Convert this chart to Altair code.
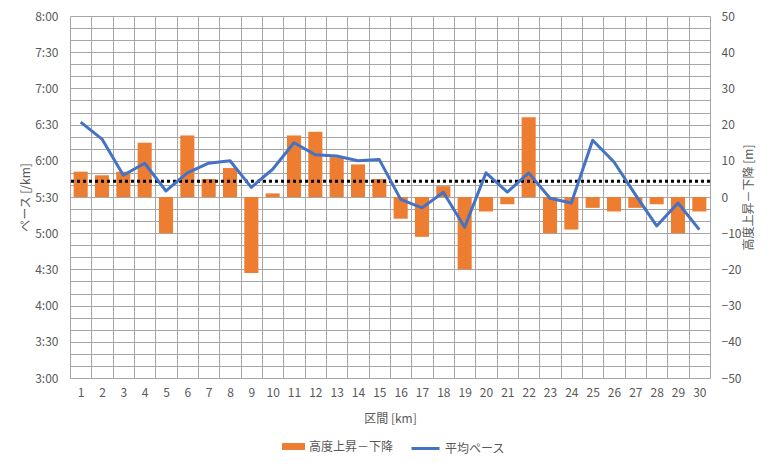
import altair as alt
import pandas as pd

KM = list(range(1, 31))
ELEVATION = [7, 6, 7, 15, -10, 17, 5, 8, -21, 1, 17, 18, 11, 9, 5,
             -6, -11, 3, -20, -4, -2, 22, -10, -9, -3, -4, -3, -2, -10, -4]
PACE = ["6:32", "6:18", "5:48", "5:58", "5:35", "5:50", "5:58", "6:00", "5:38", "5:53",
        "6:15", "6:05", "6:04", "6:00", "6:01", "5:28", "5:21", "5:34", "5:05", "5:50",
        "5:34", "5:50", "5:29", "5:25", "6:17", "5:59", "5:32", "5:06", "5:25", "5:03"]
AVG_PACE = "5:43"

BAR_NAME = "高度上昇－下降"
LINE_NAME = "平均ペース"
TEXT = "#595959"
GRID = "#a6a6a6"


def to_minutes(text: str) -> float:
    m, s = text.split(":")
    return int(m) + int(s) / 60


frame = pd.DataFrame({"km": KM, "elev": ELEVATION, "pace": [to_minutes(p) for p in PACE]})
avg = pd.DataFrame({"pace": [to_minutes(AVG_PACE)]})

x_enc = alt.X(
    "km:O",
    title="区間 [km]",
    scale=alt.Scale(paddingInner=0, paddingOuter=0),
    axis=alt.Axis(
        labelAngle=0, tickBand="extent", grid=True, gridColor=GRID, domain=False,
        ticks=False, labelPadding=9, titleY=35, labelColor=TEXT, titleColor=TEXT,
        titleFontWeight="normal",
    ),
)

label_expr = (
    "round(datum.value*6) % 3 == 0 ? floor(datum.value + 0.001) + ':' + "
    "(round(datum.value*60) % 60 < 10 ? '0' : '') + (round(datum.value*60) % 60) : ''"
)


def pace_y() -> alt.Y:
    return alt.Y(
        "pace:Q",
        title="ペース [/km]",
        scale=alt.Scale(domain=[3, 8], nice=False, zero=False),
        axis=alt.Axis(
            orient="left", values=[3 + i / 6 for i in range(31)], labelExpr=label_expr,
            grid=True, gridColor=GRID, domain=False, ticks=False, labelPadding=12,
            titleAngle=270, titleX=-45, titleY=181, titleAlign="center",
            titleBaseline="middle", labelColor=TEXT, titleColor=TEXT,
            titleFontWeight="normal",
        ),
    )


bars = (
    alt.Chart(frame)
    .mark_bar(width=alt.RelativeBandSize(0.66))
    .encode(
        x=x_enc,
        y=alt.Y(
            "elev:Q",
            title="高度上昇－下降 [m]",
            scale=alt.Scale(domain=[-50, 50], nice=False),
            axis=alt.Axis(
                orient="right", values=list(range(-50, 51, 10)), grid=False,
                domain=False, ticks=False, labelPadding=11, titleAngle=270,
                titleX=38, titleY=181, titleAlign="center", titleBaseline="middle",
                labelColor=TEXT, titleColor=TEXT, titleFontWeight="normal",
            ),
        ),
        fill=alt.Fill(
            "name:N",
            scale=alt.Scale(domain=[BAR_NAME], range=["#ED7D31"]),
            legend=alt.Legend(
                title=None, orient="none", legendX=212, legendY=419,
                symbolType="M-1,-0.3H1V0.3H-1Z", symbolSize=529, symbolOpacity=1,
                symbolStrokeWidth=0, padding=0, labelColor=TEXT, labelFontSize=12,
            ),
        ),
    )
    .transform_calculate(name=f"'{BAR_NAME}'")
)

rule = (
    alt.Chart(avg)
    .mark_rule(color="black", strokeWidth=3, strokeDash=[3, 3])
    .encode(y=pace_y())
)

line = (
    alt.Chart(frame)
    .mark_line(strokeWidth=3, strokeJoin="round")
    .encode(
        x=x_enc,
        y=pace_y(),
        stroke=alt.Stroke(
            "name:N",
            scale=alt.Scale(domain=[LINE_NAME], range=["#4472C4"]),
            legend=alt.Legend(
                title=None, orient="none", legendX=340, legendY=417,
                symbolType="stroke", symbolSize=784, symbolStrokeWidth=3,
                padding=0, labelColor=TEXT, labelFontSize=12,
            ),
        ),
    )
    .transform_calculate(name=f"'{LINE_NAME}'")
)

chart = (
    alt.layer(bars, alt.layer(rule, line))
    .resolve_scale(y="independent", fill="independent", stroke="independent")
    .properties(
        width=640,
        height=362,
        autosize=alt.AutoSizeParams(type="none"),
        padding={"left": 62, "top": 8, "right": 55, "bottom": 78},
    )
    .configure(font="Noto Sans CJK JP")
    .configure_view(stroke=None)
    .configure_axis(labelFontSize=12, titleFontSize=12)
)

chart.save("out.html", embed_options={"renderer": "svg", "actions": False})
